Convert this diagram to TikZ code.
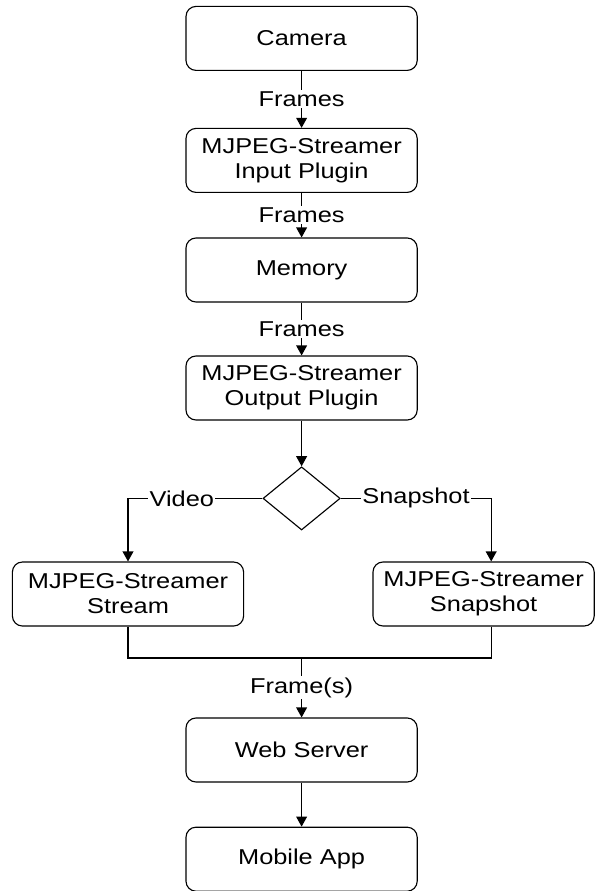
\documentclass[tikz,border=0pt]{standalone}
\usepackage{fontspec}
\setmainfont[FakeStretch=1.18]{Liberation Sans}
\usepackage{tikz}
\usetikzlibrary{arrows.meta, positioning, shapes.geometric, calc}

\begin{document}
\begin{tikzpicture}[
    box/.style={draw, line width=0.8pt, rounded corners=0.25cm, minimum width=5.78cm, minimum height=1.6cm, align=center, font=\fontsize{15.3pt}{17.8pt}\selectfont},
    decision/.style={draw, line width=0.8pt, diamond, minimum width=1.93cm, minimum height=1.58cm, inner sep=0pt},
    flow/.style={-{Triangle[length=0.25cm, width=0.27cm]}, line width=0.8pt},
    link/.style={line width=0.8pt},
    lbl/.style={fill=white, inner xsep=1pt, inner ysep=1pt, font=\fontsize{15.3pt}{17.8pt}\selectfont},
]
    \useasboundingbox (0,0) rectangle (14.875,-22.275);

    % Main chain
    \node[box] (camera) at (7.54, -0.96) {Camera};
    \node[box] (input) at (7.54, -4.01) {MJPEG-Streamer\\Input Plugin};
    \node[box] (memory) at (7.54, -6.75) {Memory};
    \node[box] (output) at (7.54, -9.70) {MJPEG-Streamer\\Output Plugin};
    \node[decision] (choice) at (7.54, -12.46) {};

    % Branches
    \node[box] (stream) at (3.20, -14.85) {MJPEG-Streamer\\Stream};
    \node[box, minimum width=5.53cm] (snap) at (12.09, -14.85) {MJPEG-Streamer\\Snapshot};

    % Bottom
    \coordinate (merge) at (7.54, -16.45);
    \node[box] (web) at (7.54, -18.75) {Web Server};
    \node[box] (mobile) at (7.54, -21.48) {Mobile App};

    % Connections
    \foreach \a/\b in {camera/input, input/memory, memory/output} {
        \draw[flow] (\a) -- node[lbl] {Frames} (\b);
    }
    \draw[flow] (output) -- (choice);
    \draw[flow] (choice.west) -| node[lbl, pos=0.3] {Video} (stream.north);
    \draw[flow] (choice.east) -| node[lbl, pos=0.25] {Snapshot} ([xshift=0.19cm]snap.north);
    \draw[link] (stream.south) |- (merge);
    \draw[link] ([xshift=0.19cm]snap.south) |- (merge);
    \draw[flow] (merge) -- node[lbl] {Frame(s)} (web);
    \draw[flow] (web) -- (mobile);

\end{tikzpicture}
\end{document}
